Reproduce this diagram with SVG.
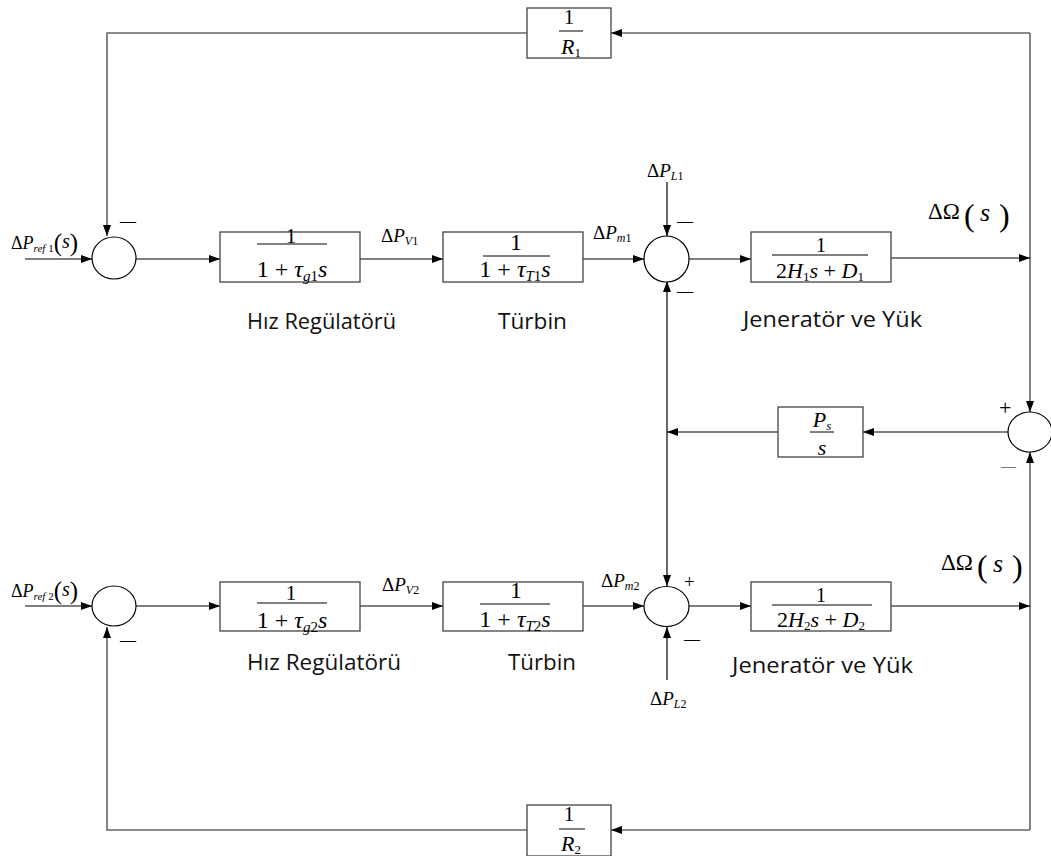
<svg xmlns="http://www.w3.org/2000/svg" width="1051" height="856" viewBox="0 0 1051 856">
<defs>
<marker id="ah" markerWidth="11" markerHeight="8" refX="11" refY="4" orient="auto" markerUnits="userSpaceOnUse"><path d="M0,0 L11,4 L0,8 z" fill="#000"/></marker>
</defs>
<style>
.wire{fill:none;stroke:#000;stroke-width:1.2}
.loop{fill:none;stroke:#666;stroke-width:1.6}
.blk{fill:#fff;stroke:#444;stroke-width:1.3}
.sum{fill:#fff;stroke:#000;stroke-width:1.2}
.m{font-family:"Liberation Serif","Times New Roman",serif;fill:#000}
.i{font-style:italic}
.lbl{font-family:"Open Sans","Noto Sans",sans-serif;font-size:21px;fill:#111}
.fl{stroke:#000;stroke-width:1}
</style>
<rect width="1051" height="856" fill="#fff"/>

<g id="connectors">
  <path class="loop" d="M1030,33 V412" marker-end="url(#ah)"/>
  <path class="loop" d="M1030,33 H611" marker-end="url(#ah)"/>
  <path class="loop" d="M527,33 H107 V236" marker-end="url(#ah)"/>
  <path class="wire" d="M25,259 H92" marker-end="url(#ah)"/>
  <path class="wire" d="M136,259 H220" marker-end="url(#ah)"/>
  <path class="wire" d="M360,259 H443" marker-end="url(#ah)"/>
  <path class="wire" d="M583,259 H644" marker-end="url(#ah)"/>
  <path class="wire" d="M667,182 V236" marker-end="url(#ah)"/>
  <path class="wire" d="M689,259 H751" marker-end="url(#ah)"/>
  <path class="wire" d="M891,258 H1030" marker-end="url(#ah)"/>
  <path class="wire" d="M1008,432 H863" marker-end="url(#ah)"/>
  <path class="wire" d="M778,432 H667" marker-end="url(#ah)"/>
  <path class="wire" d="M667,432 V281" marker-end="url(#ah)"/>
  <path class="wire" d="M667,432 V586" marker-end="url(#ah)"/>
  <path class="loop" d="M1030,830 V452" marker-end="url(#ah)"/>
  <path class="wire" d="M25,606 H92" marker-end="url(#ah)"/>
  <path class="wire" d="M136,606 H220" marker-end="url(#ah)"/>
  <path class="wire" d="M360,606 H443" marker-end="url(#ah)"/>
  <path class="wire" d="M583,606 H644" marker-end="url(#ah)"/>
  <path class="wire" d="M667,680 V627" marker-end="url(#ah)"/>
  <path class="wire" d="M689,606 H751" marker-end="url(#ah)"/>
  <path class="wire" d="M891,606 H1030" marker-end="url(#ah)"/>
  <path class="loop" d="M1030,830 H611" marker-end="url(#ah)"/>
  <path class="loop" d="M527,830 H107 V627" marker-end="url(#ah)"/>
</g>

<g id="labels">
  <text class="m" x="11" y="249" font-size="18">Δ<tspan class="i">P</tspan><tspan class="i" font-size="11" dy="3">ref</tspan><tspan font-size="11"> 1</tspan><tspan font-size="25" dy="-1">(</tspan><tspan class="i" font-size="20" dy="-3">s</tspan><tspan font-size="25" dy="3">)</tspan></text>
  <text class="m" x="11" y="597" font-size="18">Δ<tspan class="i">P</tspan><tspan class="i" font-size="11" dy="3">ref</tspan><tspan font-size="11"> 2</tspan><tspan font-size="25" dy="-1">(</tspan><tspan class="i" font-size="20" dy="-3">s</tspan><tspan font-size="25" dy="3">)</tspan></text>
  <text class="m" x="381" y="242" font-size="19">Δ<tspan class="i">P</tspan><tspan class="i" font-size="12" dy="3">V</tspan><tspan font-size="12">1</tspan></text>
  <text class="m" x="593" y="239" font-size="19">Δ<tspan class="i">P</tspan><tspan class="i" font-size="12" dy="3">m</tspan><tspan font-size="12">1</tspan></text>
  <text class="m" x="647" y="177" font-size="19">Δ<tspan class="i">P</tspan><tspan class="i" font-size="12" dy="3">L</tspan><tspan font-size="12">1</tspan></text>
  <text class="m" x="382" y="591" font-size="19">Δ<tspan class="i">P</tspan><tspan class="i" font-size="12" dy="3">V</tspan><tspan font-size="12">2</tspan></text>
  <text class="m" x="601" y="587" font-size="19">Δ<tspan class="i">P</tspan><tspan class="i" font-size="12" dy="3">m</tspan><tspan font-size="12">2</tspan></text>
  <text class="m" x="650" y="705" font-size="19">Δ<tspan class="i">P</tspan><tspan class="i" font-size="12" dy="3">L</tspan><tspan font-size="12">2</tspan></text>
  <text class="m" font-size="23"><tspan x="928" y="219">ΔΩ</tspan><tspan x="964" y="226" font-size="32">(</tspan><tspan class="i" x="980" y="221" font-size="26">s</tspan><tspan x="999" y="226" font-size="32">)</tspan></text>
  <text class="m" font-size="23"><tspan x="941" y="570">ΔΩ</tspan><tspan x="977" y="577" font-size="32">(</tspan><tspan class="i" x="993" y="572" font-size="26">s</tspan><tspan x="1012" y="577" font-size="32">)</tspan></text>
  <text class="lbl" x="247" y="329" textLength="149" lengthAdjust="spacingAndGlyphs">Hız Regülatörü</text>
  <text class="lbl" x="498" y="329" textLength="69" lengthAdjust="spacingAndGlyphs">Türbin</text>
  <text class="lbl" x="743" y="327" textLength="179" lengthAdjust="spacingAndGlyphs">Jeneratör ve Yük</text>
  <text class="lbl" x="247" y="670" textLength="154" lengthAdjust="spacingAndGlyphs">Hız Regülatörü</text>
  <text class="lbl" x="508" y="670" textLength="68" lengthAdjust="spacingAndGlyphs">Türbin</text>
  <text class="lbl" x="732" y="673" textLength="181" lengthAdjust="spacingAndGlyphs">Jeneratör ve Yük</text>
</g>

<g id="R1">
  <rect class="blk" x="527" y="8" width="84" height="50"/>
  <text class="m" x="569" y="24" font-size="21" text-anchor="middle">1</text>
  <line class="fl" x1="559" y1="31" x2="583" y2="31"/>
  <text class="m" x="571" y="54" font-size="22" text-anchor="middle"><tspan class="i">R</tspan><tspan font-size="13" dy="3">1</tspan></text>
</g>
<g id="R2">
  <rect class="blk" x="527" y="805" width="84" height="51"/>
  <text class="m" x="569" y="821" font-size="21" text-anchor="middle">1</text>
  <line class="fl" x1="559" y1="829" x2="585" y2="829"/>
  <text class="m" x="571" y="851" font-size="22" text-anchor="middle"><tspan class="i">R</tspan><tspan font-size="13" dy="3">2</tspan></text>
</g>

<g id="sum1">
  <ellipse class="sum" cx="114" cy="258" rx="22" ry="21"/>
  <text class="m" x="120" y="226" font-size="16">—</text>
</g>
<g id="gov1">
  <rect class="blk" x="220" y="232" width="140" height="50"/>
  <text class="m" x="291" y="243" font-size="21" text-anchor="middle">1</text>
  <line class="fl" x1="257" y1="244" x2="327" y2="244"/>
  <text class="m" x="292" y="277" font-size="24" text-anchor="middle">1 + <tspan class="i">τ</tspan><tspan class="i" font-size="15" dy="4">g</tspan><tspan font-size="15">1</tspan><tspan class="i" dy="-4">s</tspan></text>
</g>
<g id="tur1">
  <rect class="blk" x="443" y="232" width="140" height="50"/>
  <text class="m" x="516" y="250" font-size="24" text-anchor="middle">1</text>
  <line class="fl" x1="483" y1="256" x2="550" y2="256"/>
  <text class="m" x="515" y="277" font-size="24" text-anchor="middle">1 + <tspan class="i">τ</tspan><tspan class="i" font-size="15" dy="4">T</tspan><tspan font-size="15">1</tspan><tspan class="i" dy="-4">s</tspan></text>
</g>
<g id="sum2">
  <ellipse class="sum" cx="666.5" cy="259" rx="22.5" ry="23"/>
  <text class="m" x="677" y="226" font-size="16">—</text>
  <text class="m" x="677" y="296" font-size="16">—</text>
</g>
<g id="gen1">
  <rect class="blk" x="751" y="232" width="140" height="50"/>
  <text class="m" x="821" y="252" font-size="20" text-anchor="middle">1</text>
  <line class="fl" x1="772" y1="255" x2="868" y2="255"/>
  <text class="m" x="820" y="278" font-size="22" text-anchor="middle">2<tspan class="i">H</tspan><tspan font-size="13" dy="3">1</tspan><tspan class="i" dy="-3">s</tspan> + <tspan class="i">D</tspan><tspan font-size="13" dy="3">1</tspan></text>
</g>

<g id="sum4">
  <ellipse class="sum" cx="1030" cy="432" rx="22" ry="20"/>
  <text class="m" x="999" y="415" font-size="22">+</text>
  <text class="m" x="1001" y="471" font-size="15">—</text>
</g>
<g id="Ps">
  <rect class="blk" x="778" y="407" width="85" height="50"/>
  <text class="m" x="822" y="427" font-size="22" text-anchor="middle"><tspan class="i">P</tspan><tspan class="i" font-size="13" dy="3">s</tspan></text>
  <line class="fl" x1="810" y1="432" x2="834" y2="432"/>
  <text class="m i" x="822" y="455" font-size="22" text-anchor="middle">s</text>
</g>

<g id="sum5">
  <ellipse class="sum" cx="114" cy="606" rx="22" ry="20"/>
  <text class="m" x="120" y="645" font-size="16">—</text>
</g>
<g id="gov2">
  <rect class="blk" x="220" y="582" width="140" height="49"/>
  <text class="m" x="291" y="600" font-size="21" text-anchor="middle">1</text>
  <line class="fl" x1="257" y1="603" x2="327" y2="603"/>
  <text class="m" x="292" y="628" font-size="24" text-anchor="middle">1 + <tspan class="i">τ</tspan><tspan class="i" font-size="15" dy="4">g</tspan><tspan font-size="15">2</tspan><tspan class="i" dy="-4">s</tspan></text>
</g>
<g id="tur2">
  <rect class="blk" x="443" y="582" width="140" height="49"/>
  <text class="m" x="516" y="598" font-size="23" text-anchor="middle">1</text>
  <line class="fl" x1="480" y1="604" x2="550" y2="604"/>
  <text class="m" x="515" y="627" font-size="24" text-anchor="middle">1 + <tspan class="i">τ</tspan><tspan class="i" font-size="15" dy="4">T</tspan><tspan font-size="15">2</tspan><tspan class="i" dy="-4">s</tspan></text>
</g>
<g id="sum6">
  <ellipse class="sum" cx="666.5" cy="606.5" rx="22.5" ry="20"/>
  <text class="m" x="684" y="588" font-size="19">+</text>
  <text class="m" x="684" y="644" font-size="16">—</text>
</g>
<g id="gen2">
  <rect class="blk" x="751" y="582" width="140" height="49"/>
  <text class="m" x="821" y="602" font-size="20" text-anchor="middle">1</text>
  <line class="fl" x1="772" y1="605" x2="872" y2="605"/>
  <text class="m" x="821" y="627" font-size="22" text-anchor="middle">2<tspan class="i">H</tspan><tspan font-size="13" dy="3">2</tspan><tspan class="i" dy="-3">s</tspan> + <tspan class="i">D</tspan><tspan font-size="13" dy="3">2</tspan></text>
</g>
</svg>
